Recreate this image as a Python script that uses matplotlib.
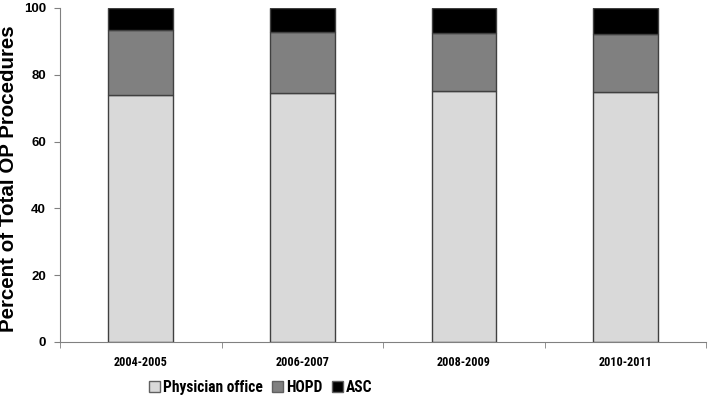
import matplotlib
matplotlib.use("Agg")
import matplotlib.pyplot as plt
from matplotlib import font_manager
import numpy as np

categories = ["2004-2005", "2006-2007", "2008-2009", "2010-2011"]
physician_office = [73.9, 74.5, 75.1, 74.8]
hopd = [19.4, 18.2, 17.3, 17.5]
asc = [6.7, 7.3, 7.6, 7.7]
series_names = ["Physician office", "HOPD", "ASC"]
colors = ["#d9d9d9", "#808080", "#000000"]

names = {f.name for f in font_manager.fontManager.ttflist}
narrow = "Roboto Condensed" if "Roboto Condensed" in names else "Liberation Sans"
plt.rcParams["font.family"] = ["Liberation Sans", "DejaVu Sans"]
plt.rcParams["font.weight"] = "bold"

fig = plt.figure(figsize=(7.09, 4.0), dpi=100)
ax = fig.add_axes([0.0846, 0.145, 0.9114, 0.835])

x = np.arange(len(categories))
bottom = np.zeros(len(categories))
for name, vals, c in zip(series_names, [physician_office, hopd, asc], colors):
    ax.bar(x, vals, width=0.4, bottom=bottom, color=c, edgecolor="#404040",
           linewidth=1.0, label=name)
    bottom += np.array(vals)

ax.set_xlim(-0.5, len(categories) - 0.5)
ax.set_ylim(0, 100)
ax.set_yticks([0, 20, 40, 60, 80, 100])
ax.set_xticks(x)
ax.set_xticklabels(categories, fontsize=8.7, fontweight="bold", family=[narrow, "DejaVu Sans"])
ax.tick_params(axis="x", length=0, pad=10)
ax.set_xticks(np.arange(-0.5, len(categories)), minor=True)
ax.tick_params(axis="x", which="minor", length=4, color="#808080", direction="out")
ax.tick_params(axis="y", length=4, color="#808080", labelsize=9.5, direction="out", pad=6)
for lab in ax.get_yticklabels():
    lab.set_fontweight("bold")

for s in ["top", "right"]:
    ax.spines[s].set_visible(False)
for s in ["left", "bottom"]:
    ax.spines[s].set_color("#808080")

ax.set_ylabel("Percent of Total OP Procedures", fontsize=14.8, fontweight="bold")
ax.yaxis.set_label_coords(-0.065, 0.49)

leg = fig.legend(loc="center", bbox_to_anchor=(0.368, 0.032), ncol=3, frameon=False,
                 prop={"size": 11.2, "weight": "bold", "family": [narrow, "DejaVu Sans"]},
                 handlelength=0.7, handleheight=0.7,
                 handletextpad=0.2, columnspacing=0.6)
for h in leg.legend_handles:
    h.set_edgecolor("#606060")

fig.savefig("out.png", dpi=100)
